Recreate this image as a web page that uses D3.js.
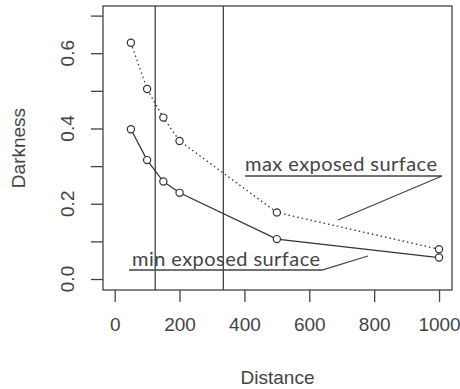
<!DOCTYPE html>
<html>
<head>
<meta charset="utf-8">
<script src="https://cdn.jsdelivr.net/npm/d3@7"></script>
<style>
  body { margin: 0; background: #fff; }
  svg text { font-family: "Liberation Sans", Arial, sans-serif; fill: #444; }
  .note { font-family: Lato, "Open Sans", sans-serif; letter-spacing: 0.45px; }
</style>
</head>
<body>
<div id="chart"></div>
<script>
// distances measured
var distances = [50, 100, 150, 200, 500, 1000];
// darkness, max exposed surface (dotted)
var maxExposed = [0.628, 0.505, 0.429, 0.367, 0.177, 0.079];
// darkness, min exposed surface (solid)
var minExposed = [0.398, 0.316, 0.259, 0.229, 0.106, 0.057];
// vertical reference lines
var vLines = [125, 335];
var xTicks = [0, 200, 400, 600, 800, 1000];
var yTicks = [0, 0.1, 0.2, 0.3, 0.4, 0.5, 0.6, 0.7];
var yLabels = [0, 0.2, 0.4, 0.6];

var width = 460,
    height = 389,
    margin = {top: 6, right: 8, bottom: 99, left: 103};

var svg = d3.select('#chart')
  .append('svg')
  .attr('width', width)
  .attr('height', height);

var x0 = margin.left, x1 = width - margin.right,
    y0 = margin.top, y1 = height - margin.bottom;

var xScale = d3.scaleLinear().domain([-36, 1040]).range([x0, x1]);
var yScale = d3.scaleLinear().domain([-0.0292, 0.7255]).range([y1, y0]);

var ink = '#444';

// x axis
var xAxis = svg.append('g')
  .attr('transform', `translate(0,${y1})`)
  .call(d3.axisBottom(xScale).tickValues(xTicks).tickSize(12).tickSizeOuter(0).tickPadding(16).tickFormat(d3.format('d')));
xAxis.select('.domain').remove();
xAxis.selectAll('line').attr('stroke', ink).attr('stroke-width', 1.3);
xAxis.selectAll('text').style('font-size', '19px').attr('fill', ink);

// y axis
var yAxis = svg.append('g')
  .attr('transform', `translate(${x0},0)`)
  .call(d3.axisLeft(yScale).tickValues(yTicks).tickSize(12).tickSizeOuter(0).tickFormat(''));
yAxis.select('.domain').remove();
yAxis.selectAll('line').attr('stroke', ink).attr('stroke-width', 1.3);

svg.append('g').selectAll('text')
  .data(yLabels)
  .enter().append('text')
  .attr('transform', d => `translate(${x0 - 29},${yScale(d)}) rotate(-90)`)
  .attr('text-anchor', 'middle')
  .style('font-size', '19px')
  .text(d => d3.format('.1f')(d));

// plot box
svg.append('rect')
  .attr('x', x0).attr('y', y0)
  .attr('width', x1 - x0).attr('height', y1 - y0)
  .attr('fill', 'none')
  .attr('stroke', ink)
  .attr('stroke-width', 1.3);

// vertical lines
svg.selectAll('.vline')
  .data(vLines)
  .enter().append('line')
  .attr('class', 'vline')
  .attr('x1', d => xScale(d)).attr('x2', d => xScale(d))
  .attr('y1', y0).attr('y2', y1)
  .attr('stroke', ink)
  .attr('stroke-width', 1.3);

var line = d3.line()
  .x(d => xScale(d[0]))
  .y(d => yScale(d[1]));

var maxPts = distances.map((d, i) => [d, maxExposed[i]]);
var minPts = distances.map((d, i) => [d, minExposed[i]]);

svg.append('path')
  .datum(maxPts)
  .attr('d', line)
  .attr('fill', 'none')
  .attr('stroke', '#333')
  .attr('stroke-width', 1.3)
  .attr('stroke-dasharray', '1.5,3');

svg.append('path')
  .datum(minPts)
  .attr('d', line)
  .attr('fill', 'none')
  .attr('stroke', '#333')
  .attr('stroke-width', 1.2);

[maxPts, minPts].forEach(pts => {
  svg.append('g').selectAll('circle')
    .data(pts)
    .enter().append('circle')
    .attr('cx', d => xScale(d[0]))
    .attr('cy', d => yScale(d[1]))
    .attr('r', 3.6)
    .attr('fill', '#fff')
    .attr('stroke', '#333')
    .attr('stroke-width', 1.2);
});

// axis titles
svg.append('text')
  .attr('x', (x0 + x1) / 2)
  .attr('y', 384)
  .attr('text-anchor', 'middle')
  .style('font-size', '19px')
  .text('Distance');

svg.append('text')
  .attr('transform', `translate(25,${(y0 + y1) / 2}) rotate(-90)`)
  .attr('text-anchor', 'middle')
  .style('font-size', '19px')
  .text('Darkness');

// annotations
svg.append('text').attr('class', 'note')
  .attr('x', 245).attr('y', 171)
  .style('font-size', '20px')
  .text('max exposed surface');
svg.append('polyline')
  .attr('points', '245,176 442,176 338,220')
  .attr('fill', 'none').attr('stroke', ink).attr('stroke-width', 1.3);

svg.append('text').attr('class', 'note')
  .attr('x', 132).attr('y', 266)
  .style('font-size', '20px')
  .text('min exposed surface');
svg.append('polyline')
  .attr('points', '129,270 322,270 368,256')
  .attr('fill', 'none').attr('stroke', ink).attr('stroke-width', 1.3);
</script>
</body>
</html>
